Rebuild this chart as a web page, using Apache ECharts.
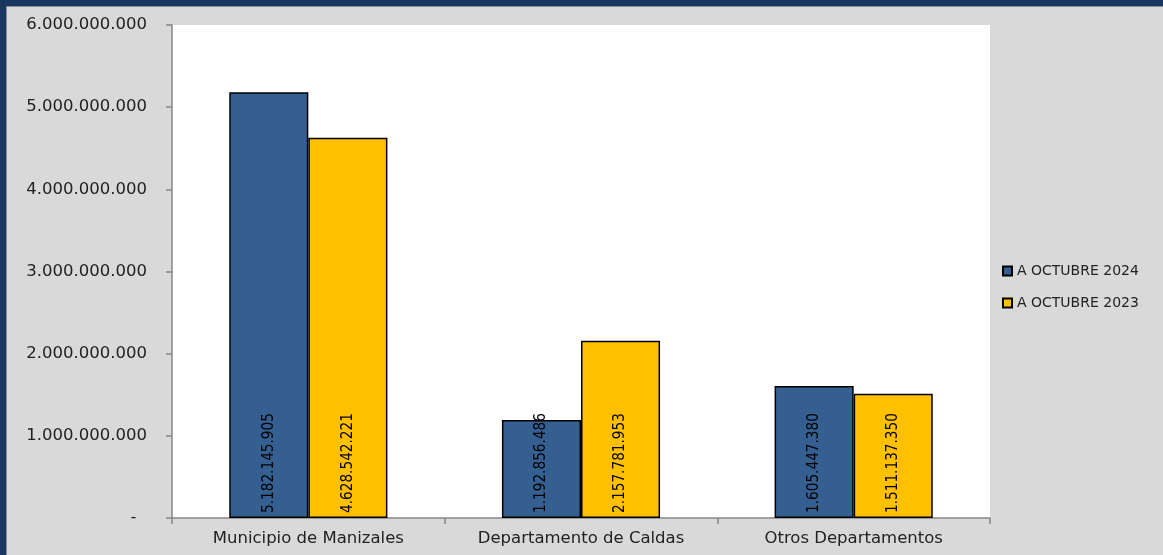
<!DOCTYPE html>
<html>
<head>
<meta charset="utf-8">
<script src="https://cdn.jsdelivr.net/npm/echarts@6/dist/echarts.min.js"></script>
<style>
html,body{margin:0;padding:0;width:1163px;height:555px;background:#17375e;overflow:hidden;}
#frame{position:absolute;left:6px;top:6px;width:1157px;height:549px;background:#8a8a8a;}
#chart{position:absolute;left:7px;top:7px;width:1156px;height:548px;}
</style>
</head>
<body>
<div id="frame"></div>
<div id="chart"></div>
<script>
const categories = ['Municipio de Manizales', 'Departamento de Caldas', 'Otros Departamentos'];
const seriesNames = ['A OCTUBRE 2024', 'A OCTUBRE 2023'];
const values2024 = [5182145905, 1192856486, 1605447380];
const values2023 = [4628542221, 2157781953, 1511137350];
const yTicks = [0, 1000000000, 2000000000, 3000000000, 4000000000, 5000000000, 6000000000];

function fmt(v) {
  return String(Math.round(v)).replace(/\B(?=(\d{3})+(?!\d))/g, '.');
}

const DV = '"DejaVu Sans", Verdana, sans-serif';
const chart = echarts.init(document.getElementById('chart'));
const labelCfg = {
  show: true,
  position: 'insideBottom',
  rotate: 90,
  align: 'left',
  verticalAlign: 'middle',
  distance: 5,
  color: '#000',
  fontFamily: '"DejaVu Sans Condensed", "Liberation Sans Narrow", sans-serif',
  fontSize: 15.2,
  formatter: p => fmt(p.value)
};
chart.setOption({
  backgroundColor: '#d9d9d9',
  animation: false,
  grid: { left: 165, right: 173, top: 18, bottom: 37, containLabel: false, show: true, backgroundColor: '#ffffff', borderWidth: 0 },
  legend: {
    orient: 'vertical',
    left: 990,
    top: 252,
    itemWidth: 9,
    itemHeight: 9,
    itemGap: 18,
    icon: 'rect',
    textStyle: { fontFamily: DV, fontSize: 14, color: '#222' },
    data: seriesNames
  },
  xAxis: {
    type: 'category',
    data: categories,
    axisLine: { show: true, lineStyle: { color: '#868686', width: 1.5 } },
    axisTick: { show: true, length: 6, interval: 0, alignWithLabel: false, lineStyle: { color: '#868686', width: 1.5 } },
    axisLabel: { interval: 0, hideOverlap: false, fontFamily: DV, fontSize: 16.5, color: '#222', margin: 12 }
  },
  yAxis: {
    type: 'value',
    min: 0,
    max: 6000000000,
    interval: 1000000000,
    splitLine: { show: false },
    axisLine: { show: true, lineStyle: { color: '#868686', width: 1.5 } },
    axisTick: { show: true, length: 6, lineStyle: { color: '#868686', width: 1.5 } },
    axisLabel: {
      fontFamily: DV, fontSize: 16.5, color: '#222', margin: 25,
      formatter: v => (v === 0 ? '-  ' : fmt(v))
    }
  },
  series: [
    {
      name: seriesNames[0], type: 'bar', data: values2024,
      barGap: '0%', barCategoryGap: '42%',
      itemStyle: { color: '#365f91', borderColor: '#000', borderWidth: 1.5 },
      label: labelCfg
    },
    {
      name: seriesNames[1], type: 'bar', data: values2023,
      barGap: '0%', barCategoryGap: '42%',
      itemStyle: { color: '#ffc000', borderColor: '#000', borderWidth: 1.5 },
      label: labelCfg
    }
  ]
});
</script>
</body>
</html>
